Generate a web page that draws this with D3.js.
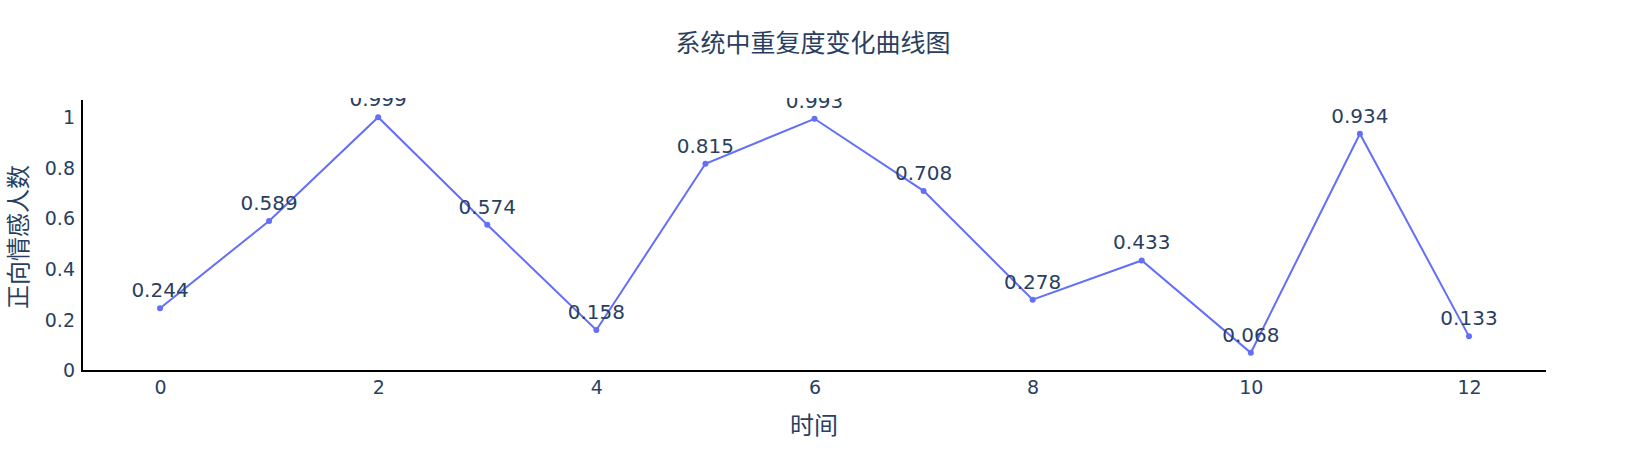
<!DOCTYPE html>
<html>
<head>
<meta charset="utf-8">
<script src="https://cdn.jsdelivr.net/npm/d3@7"></script>
<style>
  html, body { margin: 0; padding: 0; background: #fff; }
  svg { display: block; }
</style>
</head>
<body>
<div id="chart"></div>
<script>
const xValues = [0, 1, 2, 3, 4, 5, 6, 7, 8, 9, 10, 11, 12];
const yValues = [0.244, 0.589, 0.999, 0.574, 0.158, 0.815, 0.993, 0.708, 0.278, 0.433, 0.068, 0.934, 0.133];
const xTicks = [0, 2, 4, 6, 8, 10, 12];
const yTicks = [0, 0.2, 0.4, 0.6, 0.8, 1];
const chartTitle = "系统中重复度变化曲线图";
const xTitle = "时间";
const yTitle = "正向情感人数";

const W = 1626, H = 450;
const plot = { left: 83, right: 1546, top: 100, bottom: 370 };
const textColor = "#2a3f5f";
const lineColor = "#636efa";
const numFont = "Verdana, 'DejaVu Sans', sans-serif";
const cjkFont = "'Noto Sans CJK SC', 'Noto Sans', sans-serif";

const svg = d3.select("#chart").append("svg").attr("width", W).attr("height", H);

svg.append("defs").append("clipPath").attr("id", "plotclip")
  .append("rect").attr("x", plot.left).attr("y", plot.top - 2)
  .attr("width", plot.right - plot.left).attr("height", plot.bottom - plot.top + 2);

const x = d3.scaleLinear().domain([-0.706, 12.706]).range([plot.left, plot.right]);
const y = d3.scaleLinear().domain([0, 270 / 253]).range([plot.bottom, plot.top]);

// Axis lines
svg.append("line").attr("x1", plot.left - 1).attr("x2", plot.left - 1)
  .attr("y1", plot.top).attr("y2", plot.bottom + 2)
  .attr("stroke", "#000").attr("stroke-width", 2);
svg.append("line").attr("x1", plot.left - 2).attr("x2", plot.right)
  .attr("y1", plot.bottom + 1).attr("y2", plot.bottom + 1)
  .attr("stroke", "#000").attr("stroke-width", 2);

// X axis ticks
const xAxis = d3.axisBottom(x).tickValues(xTicks).tickSize(0).tickPadding(0).tickFormat(d3.format("d"));
const gx = svg.append("g").attr("transform", `translate(0,${plot.bottom})`).call(xAxis);
gx.select(".domain").remove();
gx.selectAll("text").attr("y", 24).attr("dy", null)
  .attr("font-family", numFont).attr("font-size", 19).attr("fill", textColor);

// Y axis ticks
const yAxis = d3.axisLeft(y).tickValues(yTicks).tickSize(0).tickPadding(0).tickFormat(d => d3.format("~g")(d));
const gy = svg.append("g").attr("transform", `translate(${plot.left - 8},0)`).call(yAxis);
gy.select(".domain").remove();
gy.selectAll("text").attr("x", 0).attr("dy", "0.35em")
  .attr("font-family", numFont).attr("font-size", 19).attr("fill", textColor);

const layer = svg.append("g").attr("clip-path", "url(#plotclip)");

// Line
const line = d3.line().x((d, i) => x(xValues[i])).y(d => y(d));
layer.append("path").datum(yValues).attr("d", line)
  .attr("fill", "none").attr("stroke", lineColor).attr("stroke-width", 2);

// Markers
layer.selectAll("circle.pt").data(yValues).enter().append("circle")
  .attr("class", "pt")
  .attr("cx", (d, i) => x(xValues[i])).attr("cy", d => y(d)).attr("r", 3)
  .attr("fill", lineColor);

// Data labels
layer.selectAll("text.lbl").data(yValues).enter().append("text")
  .attr("class", "lbl")
  .attr("x", (d, i) => x(xValues[i])).attr("y", d => y(d) - 11)
  .attr("text-anchor", "middle")
  .attr("font-family", numFont).attr("font-size", 20).attr("fill", textColor)
  .text(d => d3.format(".3f")(d));

// Titles
svg.append("text").attr("x", 813).attr("y", 41)
  .attr("text-anchor", "middle").attr("dominant-baseline", "central")
  .attr("font-family", cjkFont).attr("font-size", 25).attr("fill", textColor)
  .text(chartTitle);
svg.append("text").attr("x", 814).attr("y", 423.5)
  .attr("text-anchor", "middle").attr("dominant-baseline", "central")
  .attr("font-family", cjkFont).attr("font-size", 24).attr("fill", textColor)
  .text(xTitle);
svg.append("text").attr("transform", "translate(16,237) rotate(-90)")
  .attr("text-anchor", "middle").attr("dominant-baseline", "central")
  .attr("font-family", cjkFont).attr("font-size", 24).attr("fill", textColor)
  .text(yTitle);
</script>
</body>
</html>
